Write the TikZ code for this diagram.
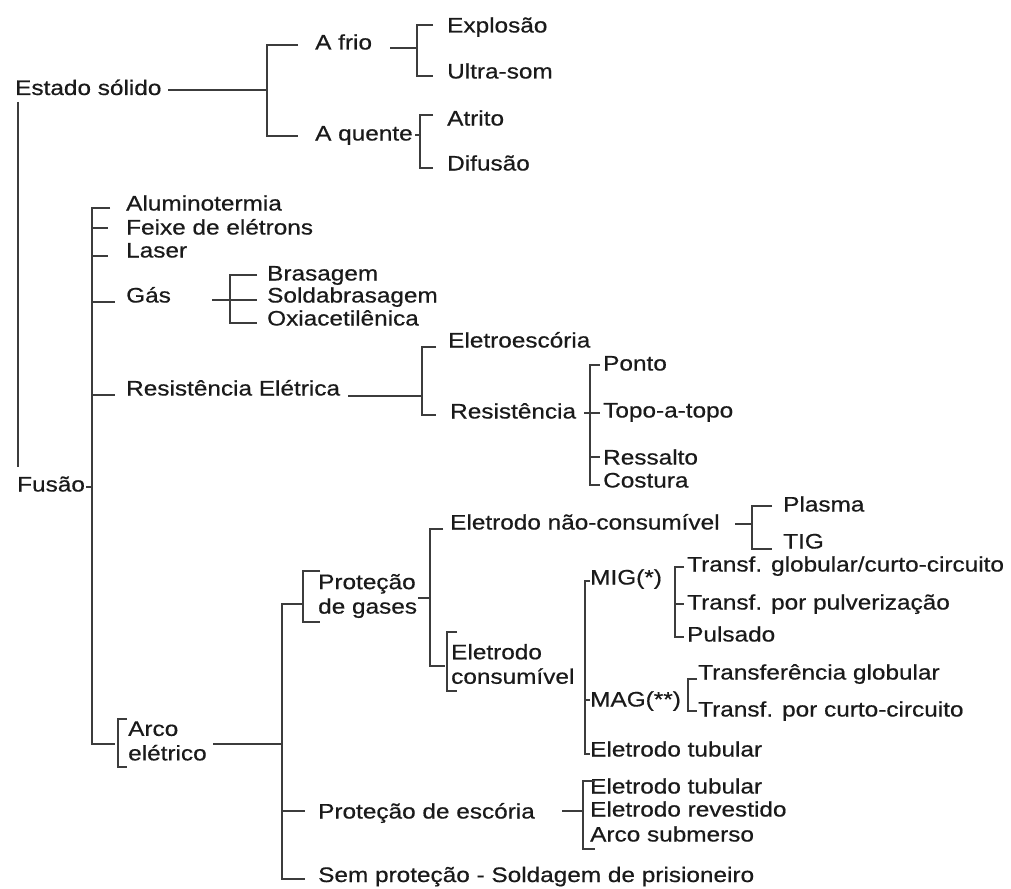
\documentclass[tikz,border=0pt]{standalone}
\usepackage{fontspec}
\setmainfont{Liberation Sans}[FakeStretch=1.16,FakeBold=0.5]
\definecolor{txtc}{HTML}{1A1A1A}
\definecolor{linec}{HTML}{3C3C3C}
\begin{document}
\begin{tikzpicture}[x=1pt,y=-1pt,
  lbl/.style={anchor=base west,inner sep=0pt,text=txtc},
  ml/.style={anchor=west,inner sep=0pt,align=left,text=txtc},
  ln/.style={draw=linec,line width=1.1pt},
  font=\fontsize{21}{24.5}\selectfont]
\fill[white] (0,0) rectangle (1011,888);
\useasboundingbox (0,0) rectangle (1011,888);

% ---- nodes ----
\node[lbl] (es) at (15,95) {Estado sólido};
\node[lbl] (afrio) at (315,49.5) {A frio};
\node[lbl] (aquente) at (315,140.5) {A quente};
\node[lbl] (expl) at (447,32.5) {Explosão};
\node[lbl] (ultra) at (447,78.5) {Ultra-som};
\node[lbl] (atrito) at (447,125.5) {Atrito};
\node[lbl] (difusao) at (447,170.5) {Difusão};
\node[lbl] (fusao) at (17,491.5) {Fusão};
\node[lbl] (alum) at (126,210.5) {Aluminotermia};
\node[lbl] (feixe) at (126,234.5) {Feixe de elétrons};
\node[lbl] (laser) at (126,257.5) {Laser};
\node[lbl] (gas) at (126,302.5) {Gás};
\node[lbl] (bras) at (267,280.5) {Brasagem};
\node[lbl] (solda) at (267,302.5) {Soldabrasagem};
\node[lbl] (oxi) at (267,325.5) {Oxiacetilênica};
\node[lbl] (rese) at (126,395.5) {Resistência Elétrica};
\node[lbl] (eesc) at (448,347.5) {Eletroescória};
\node[lbl] (resist) at (450,418.5) {Resistência};
\node[lbl] (ponto) at (603,370.5) {Ponto};
\node[lbl] (topo) at (603,417.5) {Topo-a-topo};
\node[lbl] (ressalto) at (603,464.5) {Ressalto};
\node[lbl] (costura) at (603,487.5) {Costura};
\node[ml] (arco) at (128,741) {Arco\\elétrico};
\node[ml] (protgas) at (318,596) {Proteção\\de gases};
\node[lbl] (protesc) at (318,818.5) {Proteção de escória};
\node[lbl] (semprot) at (318,882) {Sem proteção - Soldagem de prisioneiro};
\node[lbl] (naocons) at (450,529.5) {Eletrodo não-consumível};
\node[lbl] (plasma) at (783,511.5) {Plasma};
\node[lbl] (tig) at (783,548.5) {TIG};
\node[ml] (cons) at (451,664) {Eletrodo\\consumível};
\node[lbl] (mig) at (590,584.5) {MIG(*)};
\node[lbl] (mag) at (590,706.5) {MAG(**)};
\node[lbl] (tub1) at (590,756.5) {Eletrodo tubular};
\node[lbl] (t1) at (687,571.5) {Transf. globular/curto-circuito};
\node[lbl] (t2) at (687,609.5) {Transf. por pulverização};
\node[lbl] (puls) at (687,641.5) {Pulsado};
\node[lbl] (tg) at (698,679.5) {Transferência globular};
\node[lbl] (tc) at (698,716.5) {Transf. por curto-circuito};
\node[lbl] (tub2) at (590,793.5) {Eletrodo tubular};
\node[lbl] (rev) at (590,816.5) {Eletrodo revestido};
\node[lbl] (sub) at (590,841.5) {Arco submerso};

% ---- connectors ----
% Estado solido
\draw[ln] (168,90) -- (267,90);
\draw[ln] (298,45) -- (267,45) -- (267,136) -- (298,136);
\draw[ln] (390,48) -- (417,48);
\draw[ln] (433,25) -- (417,25) -- (417,76) -- (433,76);
\draw[ln] (415,135) -- (420,135);
\draw[ln] (433,115) -- (420,115) -- (420,168) -- (433,168);
\draw[ln] (18,102) -- (18,467);
% Fusao
\draw[ln] (86,487) -- (92,487);
\draw[ln] (110,208) -- (92,208) -- (92,744) -- (115,744);
\draw[ln] (92,228) -- (108,228);
\draw[ln] (92,256) -- (108,256);
\draw[ln] (92,302) -- (115,302);
\draw[ln] (92,395) -- (115,395);
% Gas
\draw[ln] (212,300) -- (257,300);
\draw[ln] (257,275) -- (230,275) -- (230,323) -- (257,323);
% Resistencia eletrica
\draw[ln] (348,396) -- (422,396);
\draw[ln] (436,347) -- (422,347) -- (422,415) -- (436,415);
\draw[ln] (584,413) -- (600,413);
\draw[ln] (600,365) -- (590,365) -- (590,485) -- (600,485);
\draw[ln] (590,457) -- (600,457);
% Arco eletrico
\draw[ln] (127,719) -- (118,719) -- (118,767) -- (127,767);
\draw[ln] (213,744) -- (282,744);
\draw[ln] (302,604) -- (282,604) -- (282,879) -- (305,879);
\draw[ln] (282,811) -- (305,811);
% Protecao de gases
\draw[ln] (320,571) -- (303,571) -- (303,622) -- (320,622);
\draw[ln] (418,598) -- (430,598);
\draw[ln] (443,529) -- (430,529) -- (430,666) -- (445,666);
\draw[ln] (457,632) -- (447,632) -- (447,691) -- (457,691);
% nao consumivel
\draw[ln] (735,524) -- (752,524);
\draw[ln] (772,506) -- (752,506) -- (752,549) -- (772,549);
% consumivel
\draw[ln] (590,581) -- (585,581) -- (585,754) -- (590,754);
\draw[ln] (585,700) -- (590,700);
\draw[ln] (684,567) -- (675,567) -- (675,637) -- (684,637);
\draw[ln] (675,604) -- (684,604);
\draw[ln] (697,679) -- (688,679) -- (688,711) -- (697,711);
% escoria
\draw[ln] (562,811) -- (583,811);
\draw[ln] (595,781) -- (583,781) -- (583,849) -- (595,849);
\end{tikzpicture}
\end{document}
